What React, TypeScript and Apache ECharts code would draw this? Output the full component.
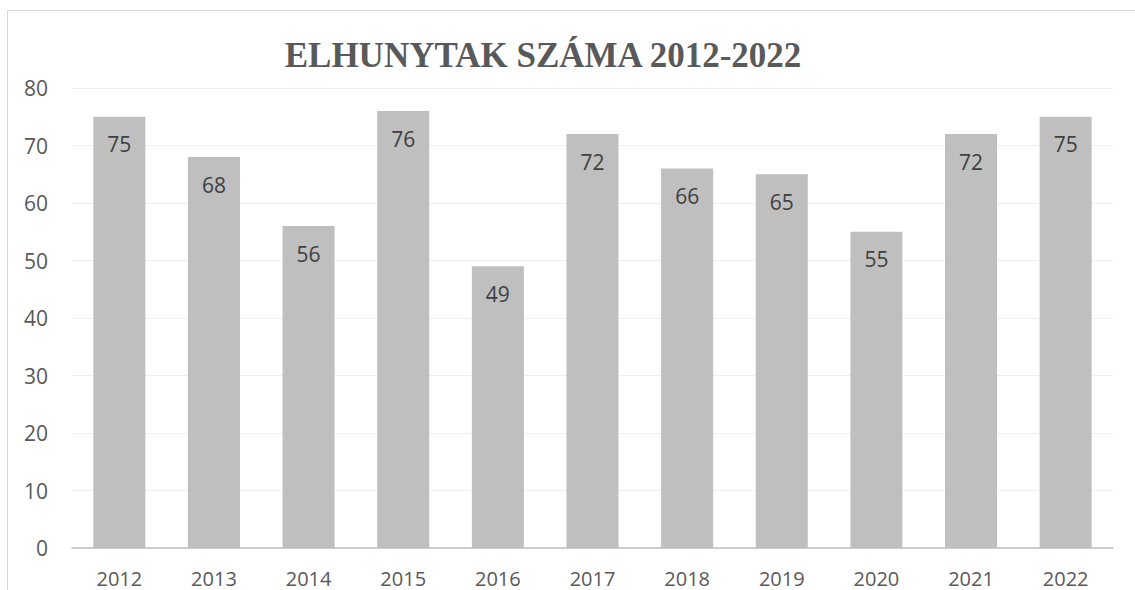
import React, { useEffect, useRef } from "react";
import * as echarts from "echarts";

const categories = ["2012", "2013", "2014", "2015", "2016", "2017", "2018", "2019", "2020", "2021", "2022"];
const values = [75, 68, 56, 76, 49, 72, 66, 65, 55, 72, 75];
const titleText = "ELHUNYTAK SZÁMA 2012-2022";

export default function App() {
  const ref = useRef<HTMLDivElement>(null);
  useEffect(() => {
    const chart = echarts.init(ref.current!, null, { renderer: "svg" });
    chart.setOption({
      animation: false,
      backgroundColor: "#ffffff",
      title: {
        text: titleText,
        left: 538,
        textAlign: "center",
        top: 33,
        textStyle: {
          fontFamily: "'Liberation Serif', 'Times New Roman', serif",
          fontWeight: "bold",
          fontSize: 35,
          color: "#595959",
        },
      },
      graphic: [
        {
          type: "rect",
          shape: { x: 7.5, y: 10.5, width: 1300, height: 700 },
          style: { fill: "none", stroke: "#d9d9d9", lineWidth: 1 },
          silent: true,
        },
      ],
      grid: { left: 72, right: 22, top: 88, bottom: 42, containLabel: false },
      xAxis: {
        type: "category",
        data: categories,
        axisTick: { show: false },
        axisLine: { lineStyle: { color: "#bfbfbf", width: 1.5 } },
        axisLabel: {
          color: "#595959",
          fontSize: 20,
          lineHeight: 20,
          fontFamily: "'Open Sans', sans-serif",
          margin: 20,
        },
      },
      yAxis: {
        type: "value",
        min: 0,
        max: 80,
        interval: 10,
        axisLine: { show: false },
        axisTick: { show: false },
        splitLine: { lineStyle: { color: "#efefef", width: 1 } },
        axisLabel: {
          color: "#595959",
          fontSize: 21,
          fontFamily: "'Open Sans', sans-serif",
          margin: 24,
        },
      },
      series: [
        {
          type: "bar",
          data: values,
          barWidth: "55%",
          itemStyle: { color: "#bfbfbf" },
          label: {
            show: true,
            position: "insideTop",
            distance: 17,
            color: "#404040",
            fontSize: 21,
            fontFamily: "'Open Sans', sans-serif",
          },
        },
      ],
    });
    return () => chart.dispose();
  }, []);
  return <div ref={ref} style={{ width: 1135, height: 590, position: "absolute", left: 0, top: 0 }} />;
}
